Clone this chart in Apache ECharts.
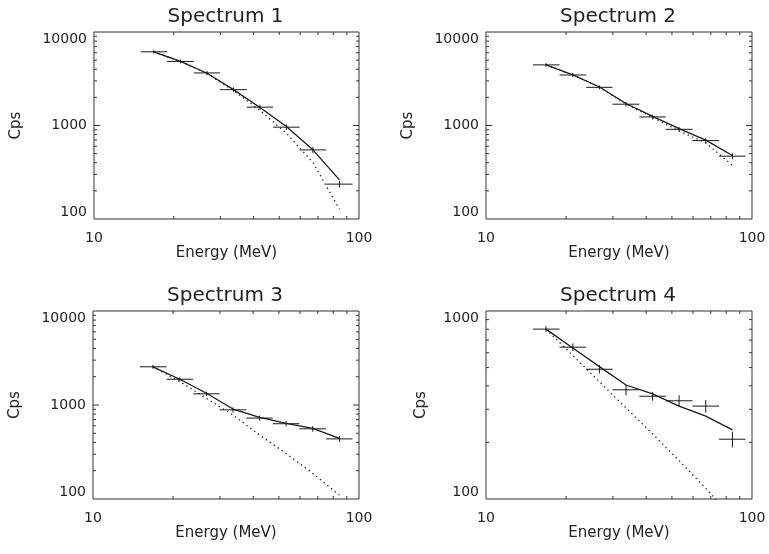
<!DOCTYPE html>
<html>
<head>
<meta charset="utf-8">
<script src="https://cdn.jsdelivr.net/npm/echarts@6/dist/echarts.min.js"></script>
<style>
  html, body { margin: 0; padding: 0; background: #ffffff; }
  #chart { width: 769px; height: 554px; }
</style>
</head>
<body>
<div id="chart"></div>
<script>
// Energy bins (MeV): edges and geometric centres
const binEdges   = [15.0, 18.9, 23.8, 29.9, 37.7, 47.4, 59.7, 75.2, 94.6];
const binCenters = [16.8, 21.2, 26.7, 33.6, 42.3, 53.2, 67.0, 84.4];

const panelTitles = ['Spectrum 1', 'Spectrum 2', 'Spectrum 3', 'Spectrum 4'];

// Measured count rates and their errors
const counts1 = [6140, 4840, 3650, 2420, 1570, 960, 548, 236];
const errors1 = [250, 230, 190, 140, 100, 65, 40, 20];
const counts2 = [4450, 3470, 2560, 1690, 1235, 910, 690, 470];
const errors2 = [200, 170, 130, 95, 75, 55, 45, 35];
const counts3 = [2550, 1880, 1315, 888, 726, 632, 558, 436];
const errors3 = [120, 95, 70, 55, 45, 42, 38, 32];
const counts4 = [801, 642, 490, 381, 352, 333, 312, 208];
const errors4 = [30, 30, 25, 25, 19, 23, 24, 20];

// Full model (solid) and primary component only (dotted)
const model1 = [6140, 4860, 3620, 2420, 1560, 975, 549, 262];
const base1  = [6140, 4860, 3600, 2370, 1450, 826, 403, 127];
const model2 = [4450, 3480, 2580, 1720, 1250, 925, 697, 477];
const base2  = [4450, 3480, 2570, 1700, 1220, 873, 653, 375];
const model3 = [2547, 1879, 1333, 906, 739, 638, 563, 441];
const base3  = [2547, 1775, 1179, 782, 479, 305, 187, 110];
const model4 = [801, 635, 506, 404, 362, 312, 276, 233];
const base4  = [801, 580, 420, 305, 222, 160, 114, 80];

// Axis ranges
const xRange = [10, 100];
const yRanges = [[100, 10000], [100, 10000], [100, 10000], [100, 1000]];

// Frame tick values
const xMinorTicks = [20, 30, 40, 50, 60, 70, 80, 90];
const yMinorTicksWide = [200, 300, 400, 500, 600, 700, 800, 900,
                         2000, 3000, 4000, 5000, 6000, 7000, 8000, 9000];
const yMinorTicksNarrow = [200, 300, 400, 500, 600, 700, 800, 900];
const yMajorTicksWide = [1000];
const yMajorTicksNarrow = [];

const panels = [
  { counts: counts1, errors: errors1, model: model1, base: base1, yMinor: yMinorTicksWide,   yMajor: yMajorTicksWide },
  { counts: counts2, errors: errors2, model: model2, base: base2, yMinor: yMinorTicksWide,   yMajor: yMajorTicksWide },
  { counts: counts3, errors: errors3, model: model3, base: base3, yMinor: yMinorTicksWide,   yMajor: yMajorTicksWide },
  { counts: counts4, errors: errors4, model: model4, base: base4, yMinor: yMinorTicksNarrow, yMajor: yMajorTicksNarrow }
];

// Layout of the 2x2 panels
const gridBoxes = [
  { left: 94,  top: 32,  width: 265, height: 187 },
  { left: 486, top: 32,  width: 266, height: 187 },
  { left: 93,  top: 311, width: 266, height: 188 },
  { left: 486, top: 311, width: 266, height: 188 }
];
const yNameGaps = [70, 70, 70, 57];

const FONT = 'DejaVu Sans';
const TEXT = '#222';
const INK = '#1a1a1a';
const FRAME = '#333';

function seg(x1, y1, x2, y2, w) {
  return { type: 'line', shape: { x1, y1, x2, y2 }, style: { stroke: INK, lineWidth: w || 1 } };
}

// Error crosses: horizontal bar over the energy bin, vertical bar over the rate error
function crossSeries(i, counts, errors) {
  return {
    type: 'custom',
    xAxisIndex: i, yAxisIndex: i,
    clip: false,
    z: 4,
    data: counts.map((c, k) => [binCenters[k], c, binEdges[k], binEdges[k + 1], errors[k]]),
    encode: { x: 0, y: 1 },
    renderItem: function (params, api) {
      const c = api.value(1), e = api.value(4);
      const l = api.coord([api.value(2), c]);
      const r = api.coord([api.value(3), c]);
      const lo = api.coord([api.value(0), c - e]);
      const hi = api.coord([api.value(0), c + e]);
      return {
        type: 'group',
        children: [
          seg(l[0], l[1], r[0], r[1], 1),
          seg(lo[0], lo[1], hi[0], hi[1], 1)
        ]
      };
    }
  };
}

// Ticks on all four sides of the frame (kind 0: x minor, 1: y minor, 2: y major)
function frameTickSeries(i, yMinor, yMajor) {
  const yLo = yRanges[i][0];
  const data = []
    .concat(xMinorTicks.map(v => [v, yLo, 0]))
    .concat(yMinor.map(v => [xRange[0], v, 1]))
    .concat(yMajor.map(v => [xRange[0], v, 2]));
  return {
    type: 'custom',
    xAxisIndex: i, yAxisIndex: i,
    clip: false,
    silent: true,
    z: 5,
    data: data,
    encode: { x: 0, y: 1 },
    renderItem: function (params, api) {
      const cs = params.coordSys;
      const p = api.coord([api.value(0), api.value(1)]);
      const kind = api.value(2);
      const x0 = cs.x, x1 = cs.x + cs.width, y0 = cs.y, y1 = cs.y + cs.height;
      if (kind === 0) {
        const len = 3;
        return { type: 'group', children: [
          { type: 'line', shape: { x1: p[0], y1: y1, x2: p[0], y2: y1 - len }, style: { stroke: FRAME, lineWidth: 1 } },
          { type: 'line', shape: { x1: p[0], y1: y0, x2: p[0], y2: y0 + len }, style: { stroke: FRAME, lineWidth: 1 } }
        ] };
      }
      const len = kind === 2 ? 6 : 3;
      return { type: 'group', children: [
        { type: 'line', shape: { x1: x0, y1: p[1], x2: x0 + len, y2: p[1] }, style: { stroke: FRAME, lineWidth: 1 } },
        { type: 'line', shape: { x1: x1, y1: p[1], x2: x1 - len, y2: p[1] }, style: { stroke: FRAME, lineWidth: 1 } }
      ] };
    }
  };
}

const grids = gridBoxes.map(b => ({
  left: b.left, top: b.top, width: b.width, height: b.height,
  show: true, borderColor: FRAME, borderWidth: 1, backgroundColor: 'transparent'
}));

const titles = panelTitles.map((t, i) => ({
  text: t,
  left: gridBoxes[i].left + gridBoxes[i].width / 2 - 6,
  top: gridBoxes[i].top - 30,
  textAlign: 'center',
  textStyle: { fontFamily: FONT, fontSize: 20, fontWeight: 'normal', color: TEXT }
}));

const xAxes = gridBoxes.map((b, i) => ({
  type: 'log', logBase: 10, gridIndex: i,
  min: xRange[0], max: xRange[1],
  name: 'Energy (MeV)', nameLocation: 'middle', nameGap: 26,
  nameTextStyle: { fontFamily: FONT, fontSize: 15, color: TEXT },
  axisLine: { show: false },
  axisTick: { show: false },
  splitLine: { show: false },
  axisLabel: {
    fontFamily: FONT, fontSize: 14, color: TEXT, margin: 12,
    formatter: v => String(Math.round(v))
  }
}));

const yAxes = gridBoxes.map((b, i) => ({
  type: 'log', logBase: 10, gridIndex: i,
  min: yRanges[i][0], max: yRanges[i][1],
  name: 'Cps', nameLocation: 'middle', nameGap: yNameGaps[i], nameRotate: 90,
  nameTextStyle: { fontFamily: FONT, fontSize: 15, color: TEXT },
  axisLine: { show: false },
  axisTick: { show: false },
  splitLine: { show: false },
  axisLabel: {
    fontFamily: FONT, fontSize: 14, color: TEXT, margin: 7,
    verticalAlignMaxLabel: 'top', verticalAlignMinLabel: 'bottom',
    formatter: v => String(Math.round(v))
  }
}));

const series = [];
panels.forEach((p, i) => {
  series.push({
    type: 'line', xAxisIndex: i, yAxisIndex: i,
    data: binCenters.map((x, k) => [x, p.model[k]]),
    showSymbol: false, symbol: 'none', silent: true, z: 3,
    lineStyle: { color: INK, width: 1.3, type: 'solid' }
  });
  series.push({
    type: 'line', xAxisIndex: i, yAxisIndex: i,
    data: binCenters.map((x, k) => [x, p.base[k]]),
    showSymbol: false, symbol: 'none', silent: true, z: 3, clip: true,
    lineStyle: { color: INK, width: 1.3, type: [1.3, 3.5] }
  });
  series.push(crossSeries(i, p.counts, p.errors));
  series.push(frameTickSeries(i, p.yMinor, p.yMajor));
});

const chart = echarts.init(document.getElementById('chart'), null, { renderer: 'canvas' });
chart.setOption({
  animation: false,
  backgroundColor: '#ffffff',
  title: titles,
  grid: grids,
  xAxis: xAxes,
  yAxis: yAxes,
  series: series
});
</script>
</body>
</html>
